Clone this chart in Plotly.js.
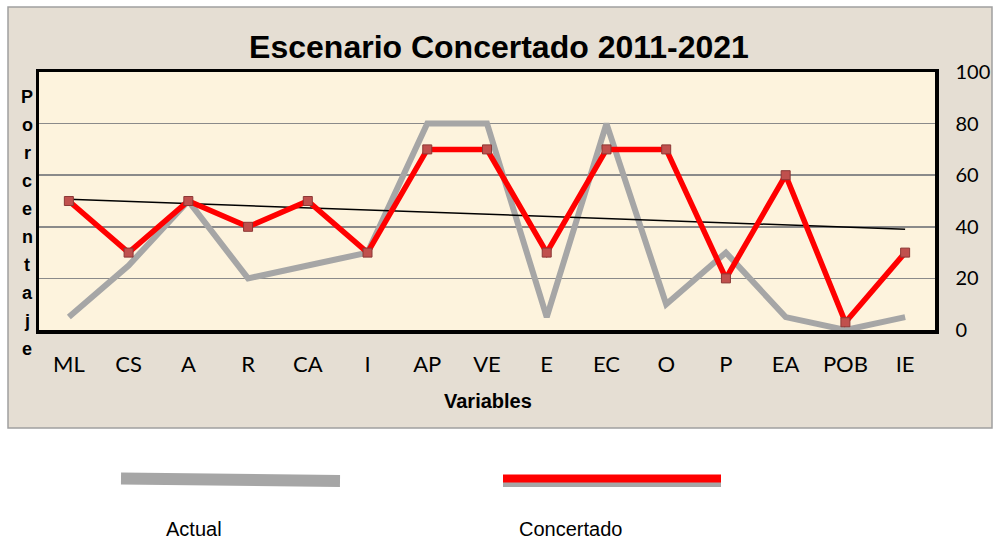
<!DOCTYPE html>
<html>
<head>
<meta charset="utf-8">
<script src="https://cdn.plot.ly/plotly-3.0.1.min.js"></script>
<style>html,body{margin:0;padding:0;background:#fff;}#chart{width:993px;height:541px;}</style>
</head>
<body>
<div id="chart"></div>
<script>
// ---- data ----
var categories = ["ML","CS","A","R","CA","I","AP","VE","E","EC","O","P","EA","POB","IE"];
var actual     = [5, 25, 50, 20, 25, 30, 80, 80, 5, 80, 10, 30, 5, 0, 5];
var concertado = [50, 30, 50, 40, 50, 30, 70, 70, 30, 70, 70, 20, 60, 3, 30];
var yTickVals  = [0, 20, 40, 60, 80, 100];
var titleText  = "Escenario Concertado 2011-2021";
var yTitle     = "Porcentaje";
var xTitle     = "Variables";
var legendNames = ["Actual", "Concertado"];

// linear trend of the Concertado series (least squares)
var n = concertado.length, sx = 0, sy = 0, sxy = 0, sxx = 0;
for (var i = 0; i < n; i++) { sx += i; sy += concertado[i]; sxy += i * concertado[i]; sxx += i * i; }
var slope = (n * sxy - sx * sy) / (n * sxx - sx * sx);
var intercept = (sy - slope * sx) / n;
var trend = categories.map(function (c, i) { return intercept + slope * i; });

// ---- layout helpers (pixel -> paper) ----
var W = 993, H = 541, L = 39, R = 58, T = 72, B = 211;
var PW = W - L - R, PH = H - T - B;
function px(x) { return (x - L) / PW; }
function py(y) { return (H - B - y) / PH; }

var ARIAL = 'Liberation Sans, Arial, sans-serif';

var traces = [
  { x: categories, y: actual, type: 'scatter', mode: 'lines', name: legendNames[0],
    line: { color: '#a6a6a6', width: 6 }, hoverinfo: 'skip' },
  { x: categories, y: trend, type: 'scatter', mode: 'lines', name: 'Tendencia',
    line: { color: '#000000', width: 1.5 }, hoverinfo: 'skip' },
  { x: categories, y: concertado, type: 'scatter', mode: 'lines+markers', name: legendNames[1],
    line: { color: '#ff0000', width: 5.5 },
    marker: { symbol: 'square', size: 9, color: '#c0504d', line: { color: '#8c3836', width: 1 } },
    hoverinfo: 'skip', cliponaxis: false }
];

var annotations = [];
// vertical stacked y title
yTitle.split('').forEach(function (ch, i) {
  annotations.push({ text: '<b>' + ch + '</b>', xref: 'paper', yref: 'paper', x: px(27), y: py(97 + 28 * i),
    xanchor: 'center', yanchor: 'middle', showarrow: false,
    font: { family: ARIAL, size: 18, color: '#000' } });
});
annotations.push({ text: '<b>' + xTitle + '</b>', xref: 'paper', yref: 'paper', x: px(488), y: py(401),
  xanchor: 'center', yanchor: 'middle', showarrow: false,
  font: { family: ARIAL, size: 20, color: '#000' } });
annotations.push({ text: legendNames[0], xref: 'paper', yref: 'paper', x: px(194), y: py(529),
  xanchor: 'center', yanchor: 'middle', showarrow: false,
  font: { family: ARIAL, size: 20, color: '#000' } });
annotations.push({ text: legendNames[1], xref: 'paper', yref: 'paper', x: px(570), y: py(529),
  xanchor: 'center', yanchor: 'middle', showarrow: false,
  font: { family: ARIAL, size: 20, color: '#000' } });

var shapes = [
  { type: 'rect', xref: 'paper', yref: 'paper', x0: px(8), x1: px(992), y0: py(428), y1: py(7),
    fillcolor: '#e5ded3', line: { color: '#a0a0a0', width: 1.5 }, layer: 'below' },
  { type: 'rect', xref: 'paper', yref: 'paper', x0: 0, x1: 1, y0: 0, y1: 1,
    fillcolor: '#fdf3dd', line: { width: 0 }, layer: 'below' },
  // legend samples
  { type: 'line', xref: 'paper', yref: 'paper', x0: px(121), x1: px(340), y0: py(478.5), y1: py(481),
    line: { color: '#a6a6a6', width: 12 } },
  { type: 'line', xref: 'paper', yref: 'paper', x0: px(503), x1: px(721), y0: py(484.5), y1: py(484.5),
    line: { color: '#a6a6a6', width: 5 } },
  { type: 'line', xref: 'paper', yref: 'paper', x0: px(503), x1: px(721), y0: py(478.5), y1: py(478.5),
    line: { color: '#ff0000', width: 8 } }
];

var layout = {
  width: W, height: H,
  margin: { l: L, r: R, t: T, b: B, pad: 0 },
  paper_bgcolor: '#ffffff',
  plot_bgcolor: 'rgba(0,0,0,0)',
  showlegend: false,
  title: { text: '<b>' + titleText + '</b>', x: px(499), xref: 'paper', xanchor: 'center',
    y: 1 - 47 / H, yanchor: 'middle',
    font: { family: ARIAL, size: 32, color: '#000' } },
  xaxis: {
    type: 'category', range: [-0.5, categories.length - 0.5],
    showgrid: false, zeroline: false,
    showline: true, linecolor: '#000', linewidth: 3.5, mirror: true,
    ticks: 'outside', ticklen: 12, tickcolor: 'rgba(0,0,0,0)',
    tickfont: { family: 'Lato, Open Sans, sans-serif', size: 22, color: '#000' },
    fixedrange: true
  },
  yaxis: {
    side: 'right', range: [0, 100], tickvals: yTickVals,
    showgrid: true, gridcolor: '#8a8a8a', gridwidth: 1.5, zeroline: false,
    showline: true, linecolor: '#000', linewidth: 3.5, mirror: true,
    ticks: 'outside', ticklen: 13, tickcolor: 'rgba(0,0,0,0)',
    tickfont: { family: 'Lato, Open Sans, sans-serif', size: 20, color: '#000' },
    fixedrange: true
  },
  annotations: annotations,
  shapes: shapes
};

Plotly.newPlot('chart', traces, layout, { staticPlot: true, displayModeBar: false });
</script>
</body>
</html>
